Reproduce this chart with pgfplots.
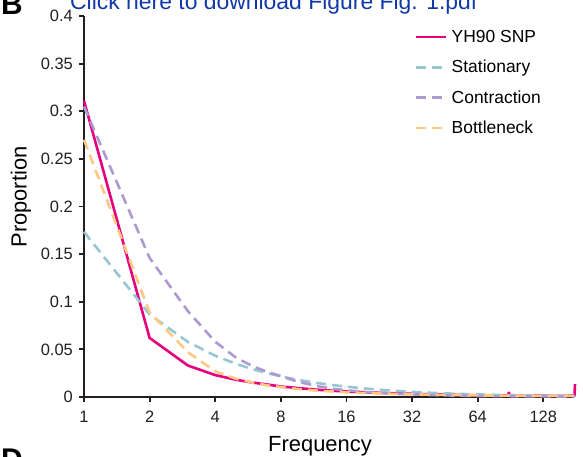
\documentclass[border=0pt]{standalone}
\usepackage{pgfplots}
\pgfplotsset{compat=1.18}
\usepackage{fontspec}
\setmainfont{Liberation Sans}
\definecolor{pinkc}{RGB}{230,0,126}
\definecolor{tealc}{RGB}{152,198,210}
\definecolor{purplec}{RGB}{174,153,208}
\definecolor{orangec}{RGB}{252,200,132}
\definecolor{linkblue}{RGB}{16,56,168}
\definecolor{axisgray}{RGB}{35,31,32}
\begin{document}
\begin{tikzpicture}
\path[use as bounding box] (0,0) rectangle (583bp,457bp);
\clip (0,0) rectangle (583bp,457bp);
\node[anchor=base west, inner sep=0pt, font=\fontsize{30}{30}\selectfont\bfseries] at (1bp,442bp) {B};
\node[anchor=base west, inner sep=0pt, text=linkblue, font=\fontsize{23}{23}\selectfont] at (70bp,447bp) {Click here to download Figure Fig. 1.pdf};
\node[anchor=base west, inner sep=0pt, font=\fontsize{30}{30}\selectfont\bfseries] at (1bp,-12.5bp) {D};
\begin{axis}[
  at={(84bp,60bp)}, anchor=south west,
  scale only axis, width=491bp, height=381bp,
  xmode=log, log basis x=2,
  xmin=1, xmax=179, ymin=0, ymax=0.4,
  axis lines*=left,
  axis line style={line width=2.4bp, axisgray, -},
  tick align=outside, major tick length=5bp,
  major tick style={line width=1.8bp, axisgray},
  xtick={1,2,4,8,16,32,64,128},
  xticklabels={1,2,4,8,16,32,64,128},
  minor xtick={}, minor ytick={},
  ytick={0,0.05,0.1,0.15,0.2,0.25,0.3,0.35,0.4},
  yticklabels={0,0.05,0.1,0.15,0.2,0.25,0.3,0.35,0.4},
  /pgf/number format/assume math mode=true,
  ticklabel style={font=\fontsize{16.5}{16.5}\selectfont, text=axisgray},
  yticklabel style={inner sep=0pt, xshift=-6bp},
  xticklabel style={inner sep=0pt, yshift=-9bp},
  xlabel={Frequency}, ylabel={Proportion},
  label style={font=\fontsize{22}{22}\selectfont, inner sep=0pt},
  xlabel style={at={(axis description cs:0.4807,-0.1436)}, anchor=base},
  ylabel style={at={(axis description cs:-0.1167,0.525)}, anchor=base, rotate=0},
  clip=false,
  legend style={at={(axis description cs:0.674,0.963)}, anchor=north west,
    draw=none, fill=none, inner sep=0pt, row sep=16.2bp,
    font=\fontsize{17.5}{17.5}\selectfont,
    nodes={inner xsep=4bp, inner ysep=0pt}},
  legend cell align=left,
  legend image code/.code={\draw[#1] (0bp,0bp) -- (30bp,0bp);},
]
\addplot[color=pinkc, line width=2.6bp, line join=round] coordinates {
(1,0.311) (2,0.062) (3,0.033) (4,0.023) (5,0.018) (6,0.015) (7,0.013) (8,0.011)
(9,0.010) (10,0.009) (11,0.0082) (12,0.0075) (14,0.0065) (16,0.0058) (20,0.0048)
(24,0.0042) (28,0.0037) (32,0.0034) (40,0.0028) (48,0.0024) (56,0.0021) (64,0.0019)
(80,0.0016) (88,0.0015) (89,0.0045) (90,0.0015) (100,0.0014) (128,0.0013)
(150,0.0012) (178,0.0013) (179,0.0135)
};
\addlegendentry{YH90 SNP}
\addplot[color=tealc, line width=2.6bp, dash pattern=on 10bp off 6bp] coordinates {
(1,0.1734) (2,0.0867) (3,0.0578) (4,0.0433) (5,0.0347) (6,0.0289) (7,0.0248)
(8,0.0217) (9,0.0193) (10,0.0173) (11,0.0158) (12,0.0144) (14,0.0124) (16,0.0108)
(20,0.0087) (24,0.0072) (28,0.0062) (32,0.0054) (40,0.0043) (48,0.0036) (56,0.0031)
(64,0.0027) (80,0.0022) (100,0.0017) (128,0.0014) (150,0.0012) (179,0.0010)
};
\addlegendentry{Stationary}
\addplot[color=purplec, line width=2.6bp, dash pattern=on 10bp off 6bp] coordinates {
(1,0.305) (2,0.146) (3,0.090) (4,0.058) (5,0.041) (6,0.032) (7,0.026) (8,0.022)
(9,0.018) (10,0.015) (11,0.013) (12,0.011) (14,0.0085) (16,0.007) (20,0.005)
(24,0.004) (28,0.0032) (32,0.0027) (40,0.002) (48,0.0016) (56,0.0013) (64,0.0011)
(80,0.0009) (100,0.0008) (128,0.0006) (179,0.0005)
};
\addlegendentry{Contraction}
\addplot[color=orangec, line width=2.6bp, dash pattern=on 10bp off 6bp] coordinates {
(1,0.270) (2,0.089) (3,0.047) (4,0.027) (5,0.019) (6,0.015) (7,0.012) (8,0.0105)
(9,0.009) (10,0.008) (12,0.0065) (16,0.005) (20,0.004) (24,0.0035) (32,0.0028)
(48,0.002) (64,0.0017) (90,0.0014) (128,0.0012) (179,0.0011)
};
\addlegendentry{Bottleneck}
\end{axis}
\end{tikzpicture}
\end{document}
